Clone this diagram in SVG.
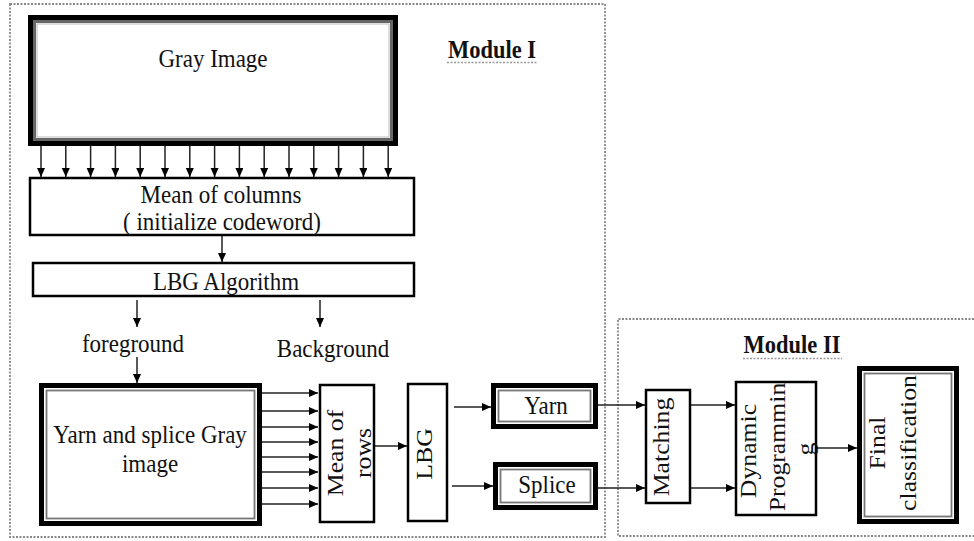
<svg xmlns="http://www.w3.org/2000/svg" width="974" height="541" viewBox="0 0 974 541">
<defs>
<marker id="ah" markerUnits="userSpaceOnUse" markerWidth="10" markerHeight="9" refX="9" refY="4" orient="auto">
<path d="M0,0 L9,4 L0,8 z" fill="#000"/>
</marker>
<style>
text{font-family:"Liberation Serif","Times New Roman","DejaVu Serif",serif}
.t{font-size:23px;fill:#111;text-anchor:middle}
.tb{font-size:22.5px;font-weight:bold;fill:#111;text-anchor:middle}
.box{fill:#fff;stroke:#000;stroke-width:2.5}
.outer{fill:#fff;stroke:#000;stroke-width:5}
.inner{fill:none;stroke:#777;stroke-width:1.8}
.mod{fill:none;stroke:#888;stroke-width:1.8;stroke-dasharray:2 1.5}
.ul{stroke:#999;stroke-width:1.5;stroke-dasharray:2 1.5}
.c{stroke:#222;stroke-width:1.5;fill:none;marker-end:url(#ah)}
</style>
</defs>
<rect width="974" height="541" fill="#fff"/>

<g id="module1">
<rect class="mod" x="10" y="4" width="595" height="533"/>
<text class="tb" transform="translate(492,58) scale(1,1.12)">Module I</text>
<line class="ul" x1="447" y1="62.5" x2="538" y2="62.5"/>
</g>
<g id="module2">
<path class="mod" d="M974,319 H618 V536 H974"/>
<text class="tb" transform="translate(792,353) scale(1,1.12)">Module II</text>
<line class="ul" x1="743" y1="358.5" x2="842" y2="358.5"/>
</g>

<g id="connectors">
<line class="c" x1="41" y1="146" x2="41" y2="177"/>
<line class="c" x1="65.8" y1="146" x2="65.8" y2="177"/>
<line class="c" x1="90.6" y1="146" x2="90.6" y2="177"/>
<line class="c" x1="115.4" y1="146" x2="115.4" y2="177"/>
<line class="c" x1="140.2" y1="146" x2="140.2" y2="177"/>
<line class="c" x1="165" y1="146" x2="165" y2="177"/>
<line class="c" x1="189.8" y1="146" x2="189.8" y2="177"/>
<line class="c" x1="214.6" y1="146" x2="214.6" y2="177"/>
<line class="c" x1="239.4" y1="146" x2="239.4" y2="177"/>
<line class="c" x1="264.2" y1="146" x2="264.2" y2="177"/>
<line class="c" x1="289" y1="146" x2="289" y2="177"/>
<line class="c" x1="313.8" y1="146" x2="313.8" y2="177"/>
<line class="c" x1="338.6" y1="146" x2="338.6" y2="177"/>
<line class="c" x1="363.4" y1="146" x2="363.4" y2="177"/>
<line class="c" x1="388.2" y1="146" x2="388.2" y2="177"/>
<line class="c" x1="222" y1="236" x2="222" y2="262"/>
<line class="c" x1="137" y1="300" x2="137" y2="327"/>
<line class="c" x1="320" y1="300" x2="320" y2="327"/>
<line class="c" x1="137" y1="357" x2="137" y2="383"/>
<line class="c" x1="262" y1="393" x2="318" y2="393"/>
<line class="c" x1="262" y1="411" x2="318" y2="411"/>
<line class="c" x1="262" y1="427" x2="318" y2="427"/>
<line class="c" x1="262" y1="442" x2="318" y2="442"/>
<line class="c" x1="262" y1="457" x2="318" y2="457"/>
<line class="c" x1="262" y1="472" x2="318" y2="472"/>
<line class="c" x1="262" y1="488" x2="318" y2="488"/>
<line class="c" x1="262" y1="504" x2="318" y2="504"/>
<line class="c" x1="375" y1="446" x2="407" y2="446"/>
<line class="c" x1="454" y1="407" x2="491" y2="407"/>
<line class="c" x1="452" y1="486" x2="493" y2="486"/>
<line class="c" x1="598" y1="405" x2="645" y2="405"/>
<line class="c" x1="598" y1="488" x2="645" y2="488"/>
<line class="c" x1="691" y1="405" x2="735" y2="405"/>
<line class="c" x1="691" y1="488" x2="735" y2="488"/>
<line class="c" x1="813" y1="448" x2="857" y2="448"/>
</g>

<g id="gray-image">
<rect class="outer" x="30.5" y="17.5" width="365" height="126"/>
<rect x="34.5" y="21.5" width="357" height="118" fill="none" stroke="#666" stroke-width="3"/>
<rect x="37" y="24" width="352" height="113" fill="none" stroke="#bbb" stroke-width="1"/>
<text class="t" transform="translate(213,67) scale(1,1.12)">Gray Image</text>
</g>

<g id="mean-columns">
<rect class="box" x="30" y="178" width="384" height="57"/>
<text class="t" transform="translate(221,203) scale(1,1.12)">Mean of columns</text>
<text class="t" transform="translate(222,230) scale(1,1.12)">( initialize codeword)</text>
</g>

<g id="lbg-algorithm">
<rect class="box" x="33" y="263" width="381" height="33"/>
<text class="t" transform="translate(226,290) scale(1,1.12)">LBG Algorithm</text>
</g>

<g id="foreground">
<text class="t" transform="translate(133,352) scale(1,1.12)">foreground</text>
</g>
<g id="background">
<text class="t" transform="translate(333,357) scale(1,1.12)">Background</text>
</g>

<g id="yarn-splice-image">
<rect class="outer" x="41.5" y="385.5" width="218" height="138"/>
<rect class="inner" x="46.5" y="390.5" width="208" height="128"/>
<text class="t" transform="translate(150,443) scale(1,1.12)">Yarn and splice Gray</text>
<text class="t" transform="translate(150,472) scale(1,1.12)">image</text>
</g>

<g id="mean-rows">
<rect class="box" x="320" y="385" width="54" height="137"/>
<text class="t" transform="translate(343,453) scale(1,1.12) rotate(-90)">Mean of</text>
<text class="t" transform="translate(371,453) scale(1,1.12) rotate(-90)">rows</text>
</g>

<g id="lbg">
<rect class="box" x="408" y="384" width="39" height="137"/>
<text class="t" transform="translate(432,454) scale(1,1.12) rotate(-90)">LBG</text>
</g>

<g id="yarn">
<rect class="outer" x="493.5" y="385.5" width="102" height="41"/>
<rect class="inner" x="498.5" y="390.5" width="92" height="31"/>
<text class="t" transform="translate(546,414) scale(1,1.12)">Yarn</text>
</g>

<g id="splice">
<rect class="outer" x="495.5" y="464.5" width="100" height="43"/>
<rect class="inner" x="500.5" y="469.5" width="90" height="33"/>
<text class="t" transform="translate(547,493) scale(1,1.12)">Splice</text>
</g>

<g id="matching">
<rect class="box" x="646" y="390" width="44" height="113"/>
<text class="t" transform="translate(669,447) scale(1,1.12) rotate(-90)">Matching</text>
</g>

<g id="dynamic-programming">
<rect class="box" x="736" y="382" width="80" height="133"/>
<text class="t" transform="translate(756,451) scale(1,1.12) rotate(-90)">Dynamic</text>
<text class="t" transform="translate(785,447) scale(1,1.12) rotate(-90)">Programmin</text>
<text class="t" transform="translate(813,449) scale(1,1.12) rotate(-90)">g</text>
</g>

<g id="final-classification">
<rect class="outer" x="859.5" y="368.5" width="97" height="153"/>
<rect class="inner" x="864.5" y="373.5" width="87" height="143"/>
<text class="t" transform="translate(885,443) scale(1,1.12) rotate(-90)">Final</text>
<text class="t" transform="translate(916,443) scale(1,1.12) rotate(-90)">classification</text>
</g>
</svg>
